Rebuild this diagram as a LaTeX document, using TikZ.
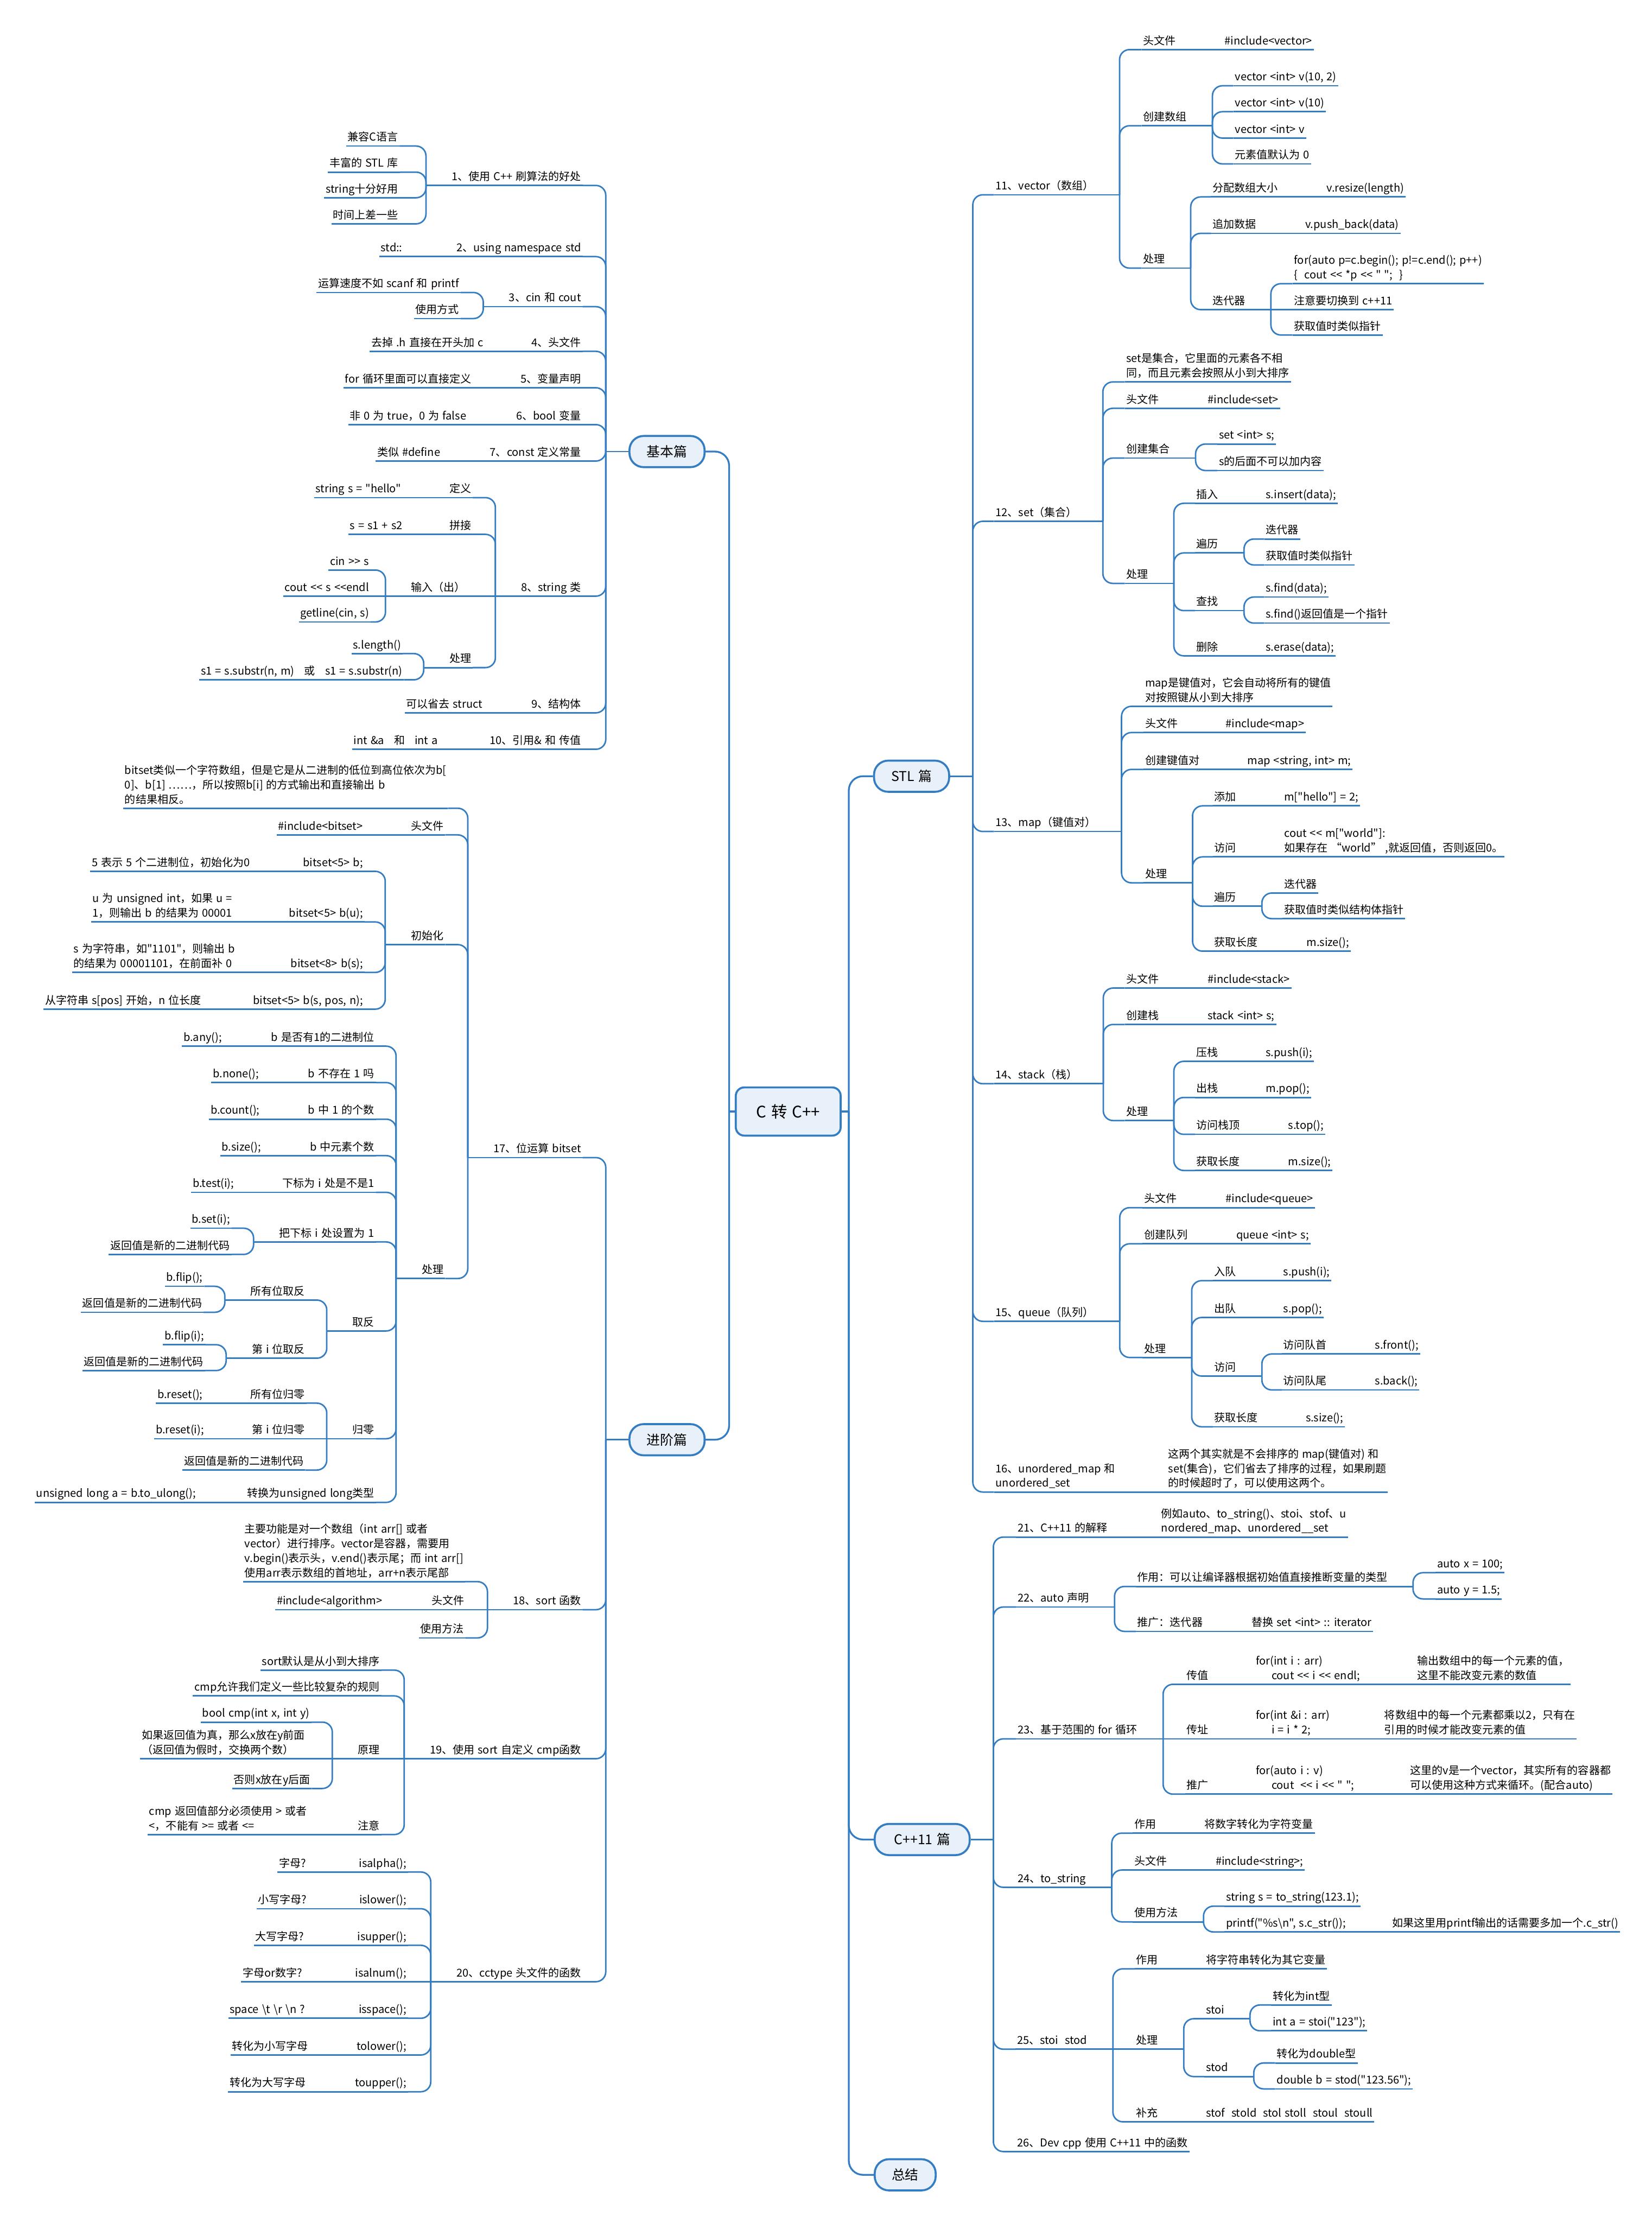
\documentclass[tikz,border=0pt]{standalone}
\usepackage{fontspec}
\newfontfamily\mapfont{Noto Sans CJK SC}[WordSpace=1.35]
\usetikzlibrary{calc}
\definecolor{mapblue}{RGB}{53,125,195}
\definecolor{boxfill}{RGB}{232,240,249}
\tikzset{
  mline/.style={draw=mapblue, line width=1.5pt},
  link/.style={draw=mapblue, line width=1.5pt, rounded corners=3.5mm},
  biglink/.style={draw=mapblue, line width=1.8pt, rounded corners=5mm},
  topic/.style={font=\mapfont\fontsize{10.9}{14.6}\selectfont, inner xsep=0.5mm, inner ysep=0.6mm, text depth=1.1mm, align=left,
    append after command={(\tikzlastnode.south west) edge[mline] (\tikzlastnode.south east)}},
  lt/.style={topic, anchor=south east},
  rt/.style={topic, anchor=south west},
  mainbox/.style={draw=mapblue, line width=2pt, fill=boxfill, rounded corners=5mm, minimum height=11mm, minimum width=26.5mm, inner sep=0pt, font=\mapfont\fontsize{13.5}{16}\selectfont},
  rootbox/.style={mainbox, rounded corners=3mm, minimum width=37mm, minimum height=17mm, font=\mapfont\fontsize{16}{19}\selectfont}
}
\begin{document}
\begin{tikzpicture}[x=0.5mm,y=-0.5mm]
\useasboundingbox (0,0) rectangle (1165,1568);

\node[rootbox] (root) at (556,784) {C 转 C++};
\node[mainbox] (basic) at (470.5,318.5) {基本篇};
\node[mainbox] (adv) at (470.5,1015.5) {进阶篇};
\node[mainbox] (stl) at (643,547.5) {STL 篇};
\node[mainbox,minimum width=33.5mm] (cpp) at (650.5,1297.5) {C++11 篇};
\node[mainbox,minimum width=21.5mm] (sum) at (638.5,1534) {总结};
\draw[biglink] (root.west) -- ++(-4,0) coordinate (rootl);
\draw[biglink] (root.east) -- ++(5,0) coordinate (rootr);
\foreach \t in {basic,adv} \draw[biglink] (rootl) |- (\t.east);
\foreach \t in {stl,cpp,sum} \draw[biglink] (rootr) |- (\t.west);

\node[lt] (b1) at (411,130.8) {1、使用 C++ 刷算法的好处};
\node[lt] (b2) at (411,181) {2、using namespace std};
\node[lt] (b3) at (411,216.3) {3、cin 和 cout};
\node[lt] (b4) at (411,247.8) {4、头文件};
\node[lt] (b5) at (411,273.5) {5、变量声明};
\node[lt] (b6) at (411,299.5) {6、bool 变量};
\node[lt] (b7) at (411,325.2) {7、const 定义常量};
\node[lt] (b8) at (411,420.5) {8、string 类};
\node[lt] (b9) at (411,502.8) {9、结构体};
\node[lt] (b10) at (411,528.5) {10、引用\& 和 传值};
\draw[link] (basic.west) -- ++(-16,0) coordinate (basicj);
\foreach \i in {1,...,10} \draw[link] (basicj) |- (b\i.south east);

\node[lt] (b1a) at (282,103) {兼容C语言};
\node[lt] (b1b) at (282,121.4) {丰富的 STL 库};
\node[lt] (b1c) at (282,139.5) {string十分好用};
\node[lt] (b1d) at (282,157.9) {时间上差一些};
\draw[mline] (b1.south west) -- ++(-17,0) coordinate (b1j);
\foreach \c in {b1a,b1b,b1c,b1d} \draw[link] (b1j) |- (\c.south east);
\node[lt] (b2a) at (285,181) {std::};
\draw[mline] (b2.south west) -- (b2a.south east);
\node[lt] (b3a) at (325,206.3) {运算速度不如 scanf 和 printf};
\node[lt] (b3b) at (325,224.7) {使用方式};
\draw[mline] (b3.south west) -- ++(-17,0) coordinate (b3j);
\foreach \c in {b3a,b3b} \draw[link] (b3j) |- (\c.south east);
\node[lt] (b4a) at (342,247.8) {去掉 .h 直接在开头加 c};
\node[lt] (b5a) at (333.5,273.5) {for 循环里面可以直接定义};
\node[lt] (b6a) at (330,299.5) {非 0 为 true，0 为 false};
\node[lt] (b7a) at (311.7,325.2) {类似 \#define};
\foreach \c in {b4,b5,b6,b7} \draw[mline] (\c.south west) -- (\c a.south east);

\node[lt] (b8a) at (333.5,351) {定义};
\node[lt] (b8b) at (333.5,376.9) {拼接};
\node[lt] (b8c) at (329.5,420.5) {输入（出）};
\node[lt] (b8d) at (333.5,470.9) {处理};
\draw[mline] (b8.south west) -- ++(-17,0) coordinate (b8j);
\foreach \c in {b8a,b8b,b8d} \draw[link] (b8j) |- (\c.south east);
\draw[mline] (b8j) -- (b8c.south east);
\node[lt] (b8aa) at (284,351) {string s = "hello"};
\node[lt] (b8ba) at (285,376.9) {s = s1 + s2};
\foreach \c in {b8a,b8b} \draw[mline] (\c.south west) -- (\c a.south east);
\node[lt] (b8ca) at (261.4,402.1) {cin >> s};
\node[lt] (b8cb) at (261.4,420.5) {cout << s <<endl};
\node[lt] (b8cc) at (261.4,438.7) {getline(cin, s)};
\draw[mline] (b8c.south west) -- ++(-17,0) coordinate (b8cj);
\draw[mline] (b8cj) -- (b8cb.south east);
\foreach \c in {b8ca,b8cc} \draw[link] (b8cj) |- (\c.south east);
\node[lt] (b8da) at (284,461) {s.length()};
\node[lt] (b8db) at (285,479.5) {s1 = s.substr(n, m)\ \ \ 或\ \ \ s1 = s.substr(n)};
\draw[mline] (b8d.south west) -- ++(-17,0) coordinate (b8dj);
\foreach \c in {b8da,b8db} \draw[link] (b8dj) |- (\c.south east);
\node[lt] (b9a) at (341.4,502.8) {可以省去 struct};
\node[lt] (b10a) at (310,528.5) {int \&a\ \ \ 和\ \ \ int a};
\foreach \c in {b9,b10} \draw[mline] (\c.south west) -- (\c a.south east);

\node[lt] (a17) at (411,816.5) {17、位运算 bitset};
\node[lt] (a18) at (411,1135.4) {18、sort 函数};
\node[lt] (a19) at (411,1240.5) {19、使用 sort 自定义 cmp函数};
\node[lt] (a20) at (411,1397.8) {20、cctype 头文件的函数};
\draw[link] (adv.west) -- ++(-16,0) coordinate (advj);
\foreach \i in {17,...,20} \draw[link] (advj) |- (a\i.south east);

\node[lt] (a17a) at (316,570.1) {bitset类似一个字符数组，但是它是从二进制的低位到高位依次为b[\\0]、b[1] ……，所以按照b[i] 的方式输出和直接输出 b\\的结果相反。};
\node[lt] (a17b) at (314,588.9) {头文件};
\node[lt] (a17c) at (314,666.3) {初始化};
\node[lt] (a17d) at (314,901.8) {处理};
\draw[mline] (a17.south west) -- ++(-17,0) coordinate (a17j);
\foreach \c in {a17a,a17b,a17c,a17d} \draw[link] (a17j) |- (\c.south east);
\node[lt] (a17ba) at (257,588.9) {\#include<bitset>};
\draw[mline] (a17b.south west) -- (a17ba.south east);
\node[lt] (a17ca) at (257.2,614.6) {bitset<5> b;};
\node[lt] (a17cb) at (257.2,650.3) {bitset<5> b(u);};
\node[lt] (a17cc) at (257.2,685.9) {bitset<8> b(s);};
\node[lt] (a17cd) at (257.2,711.8) {bitset<5> b(s, pos, n);};
\draw[mline] (a17c.south west) -- ++(-17,0) coordinate (a17cj);
\foreach \c in {a17ca,a17cb,a17cc,a17cd} \draw[link] (a17cj) |- (\c.south east);
\node[lt] (a17caa) at (177.5,614.6) {5 表示 5 个二进制位，初始化为0};
\node[lt] (a17cba) at (165,650.3) {u 为 unsigned int，如果 u =\\1，则输出 b 的结果为 00001};
\node[lt] (a17cca) at (167,685.9) {s 为字符串，如"1101"，则输出 b\\的结果为 00001101，在前面补 0};
\node[lt] (a17cda) at (143,711.8) {从字符串 s[pos] 开始，n 位长度};
\foreach \c in {a17ca,a17cb,a17cc,a17cd} \draw[mline] (\c.south west) -- (\c a.south east);

\node[lt] (p1) at (265.1,737.9) {b 是否有1的二进制位};
\node[lt] (p2) at (265.1,763.6) {b 不存在 1 吗};
\node[lt] (p3) at (265.1,789.4) {b 中 1 的个数};
\node[lt] (p4) at (265.1,815.1) {b 中元素个数};
\node[lt] (p5) at (265.1,841) {下标为 i 处是不是1};
\node[lt] (p6) at (265.1,876) {把下标 i 处设置为 1};
\node[lt] (p7) at (265.1,938.8) {取反};
\node[lt] (p8) at (265.1,1014.8) {归零};
\node[lt] (p9) at (265.1,1059.7) {转换为unsigned long类型};
\draw[mline] (a17d.south west) -- ++(-17,0) coordinate (a17dj);
\foreach \i in {1,...,9} \draw[link] (a17dj) |- (p\i.south east);
\node[lt] (p1a) at (157.7,737.9) {b.any();};
\node[lt] (p2a) at (183.7,763.6) {b.none();};
\node[lt] (p3a) at (184.3,789.4) {b.count();};
\node[lt] (p4a) at (185.1,815.1) {b.size();};
\node[lt] (p5a) at (166.2,841) {b.test(i);};
\node[lt] (p9a) at (139.3,1059.7) {unsigned long a = b.to\_ulong();};
\foreach \i in {1,2,3,4,5,9} \draw[mline] (p\i.south west) -- (p\i a.south east);
\node[lt] (p6a) at (163.3,866.3) {b.set(i);};
\node[lt] (p6b) at (163.3,884.8) {返回值是新的二进制代码};
\draw[mline] (p6.south west) -- ++(-17,0) coordinate (p6j);
\foreach \c in {p6a,p6b} \draw[link] (p6j) |- (\c.south east);
\node[lt] (p7a) at (216.2,917) {所有位取反};
\node[lt] (p7b) at (216.2,958) {第 i 位取反};
\draw[mline] (p7.south west) -- ++(-17,0) coordinate (p7j);
\foreach \c in {p7a,p7b} \draw[link] (p7j) |- (\c.south east);
\node[lt] (p7aa) at (144.1,907.3) {b.flip();};
\node[lt] (p7ab) at (143.6,925.6) {返回值是新的二进制代码};
\draw[mline] (p7a.south west) -- ++(-17,0) coordinate (p7aj);
\foreach \c in {p7aa,p7ab} \draw[link] (p7aj) |- (\c.south east);
\node[lt] (p7ba) at (145,948.5) {b.flip(i);};
\node[lt] (p7bb) at (144.7,966.7) {返回值是新的二进制代码};
\draw[mline] (p7b.south west) -- ++(-17,0) coordinate (p7bj);
\foreach \c in {p7ba,p7bb} \draw[link] (p7bj) |- (\c.south east);
\node[lt] (p8a) at (216.2,989.7) {所有位归零};
\node[lt] (p8b) at (216.2,1014.8) {第 i 位归零};
\node[lt] (p8c) at (215.3,1036.9) {返回值是新的二进制代码};
\draw[mline] (p8.south west) -- ++(-17,0) coordinate (p8j);
\draw[mline] (p8j) -- (p8b.south east);
\foreach \c in {p8a,p8c} \draw[link] (p8j) |- (\c.south east);
\node[lt] (p8aa) at (144.1,989.7) {b.reset();};
\node[lt] (p8ba) at (145,1014.8) {b.reset(i);};
\foreach \c in {p8a,p8b} \draw[mline] (\c.south west) -- (\c a.south east);

\node[lt] (a18a) at (328,1115.6) {主要功能是对一个数组（int arr[] 或者\\vector）进行排序。vector是容器，需要用\\v.begin()表示头，v.end()表示尾；而 int arr[]\\使用arr表示数组的首地址，arr+n表示尾部};
\node[lt] (a18b) at (328.7,1135.4) {头文件};
\node[lt] (a18c) at (328.4,1155.3) {使用方法};
\draw[mline] (a18.south west) -- ++(-17,0) coordinate (a18j);
\draw[mline] (a18j) -- (a18b.south east);
\foreach \c in {a18a,a18c} \draw[link] (a18j) |- (\c.south east);
\node[lt] (a18ba) at (270.7,1135.4) {\#include<algorithm>};
\draw[mline] (a18b.south west) -- (a18ba.south east);

\node[lt] (a19a) at (269,1178) {sort默认是从小到大排序};
\node[lt] (a19b) at (269,1196.2) {cmp允许我们定义一些比较复杂的规则};
\node[lt] (a19c) at (269,1240.5) {原理};
\node[lt] (a19d) at (269,1294) {注意};
\draw[mline] (a19.south west) -- ++(-17,0) coordinate (a19j);
\draw[mline] (a19j) -- (a19c.south east);
\foreach \c in {a19a,a19b,a19d} \draw[link] (a19j) |- (\c.south east);
\node[lt] (a19ca) at (219.6,1214.7) {bool cmp(int x, int y)};
\node[lt] (a19cb) at (216.2,1240.5) {如果返回值为真，那么x放在y前面\\（返回值为假时，交换两个数）};
\node[lt] (a19cc) at (219.9,1261.5) {否则x放在y后面};
\draw[mline] (a19c.south west) -- ++(-17,0) coordinate (a19cj);
\draw[mline] (a19cj) -- (a19cb.south east);
\foreach \c in {a19ca,a19cc} \draw[link] (a19cj) |- (\c.south east);
\node[lt] (a19da) at (217.6,1294) {cmp 返回值部分必须使用 > 或者\\<，不能有 >= 或者 <=};
\draw[mline] (a19d.south west) -- (a19da.south east);

\node[lt] (f1) at (287.7,1320.4) {isalpha();};
\node[lt] (f2) at (287.7,1346.3) {islower();};
\node[lt] (f3) at (287.7,1372.1) {isupper();};
\node[lt] (f4) at (287.7,1397.8) {isalnum();};
\node[lt] (f5) at (287.7,1423.6) {isspace();};
\node[lt] (f6) at (287.7,1449.5) {tolower();};
\node[lt] (f7) at (287.7,1475.4) {toupper();};
\draw[mline] (a20.south west) -- ++(-17,0) coordinate (a20j);
\draw[mline] (a20j) -- (f4.south east);
\foreach \i in {1,2,3,5,6,7} \draw[link] (a20j) |- (f\i.south east);
\node[lt] (f1a) at (217,1320.4) {字母?};
\node[lt] (f2a) at (217.6,1346.3) {小写字母?};
\node[lt] (f3a) at (215.6,1372.1) {大写字母?};
\node[lt] (f4a) at (214.2,1397.8) {字母or数字?};
\node[lt] (f5a) at (216.2,1423.6) {space \textbackslash t \textbackslash r \textbackslash n ?};
\node[lt] (f6a) at (218.5,1449.5) {转化为小写字母};
\node[lt] (f7a) at (216.8,1475.4) {转化为大写字母};
\foreach \i in {1,...,7} \draw[mline] (f\i.south west) -- (f\i a.south east);

\node[rt] (s11) at (701.2,137.4) {11、vector（数组）};
\node[rt] (s12) at (701.2,367.7) {12、set（集合）};
\node[rt] (s13) at (701.2,586.5) {13、map（键值对）};
\node[rt] (s14) at (701.2,764.4) {14、stack（栈）};
\node[rt] (s15) at (701.2,932) {15、queue（队列）};
\node[rt] (s16) at (701.2,1052.4) {16、unordered\_map 和\\unordered\_set};
\draw[link] (stl.east) -- ++(16,0) coordinate (stlj);
\foreach \i in {11,...,16} \draw[link] (stlj) |- (s\i.south west);

\node[rt] (s11a) at (805.3,35) {头文件};
\node[rt] (s11b) at (805.3,88.7) {创建数组};
\node[rt] (s11c) at (805.3,189.1) {处理};
\draw[mline] (s11.south east) -- ++(17,0) coordinate (s11j);
\foreach \c in {s11a,s11b,s11c} \draw[link] (s11j) |- (\c.south west);
\node[rt] (s11aa) at (862.8,35) {\#include<vector>};
\draw[mline] (s11a.south east) -- (s11aa.south west);
\node[rt] (s11ba) at (870,60.5) {vector <int> v(10, 2)};
\node[rt] (s11bb) at (870,78.8) {vector <int> v(10)};
\node[rt] (s11bc) at (870,97.4) {vector <int> v};
\node[rt] (s11bd) at (870,115.6) {元素值默认为 0};
\draw[mline] (s11b.south east) -- ++(17,0) coordinate (s11bj);
\foreach \c in {s11ba,s11bb,s11bc,s11bd} \draw[link] (s11bj) |- (\c.south west);
\node[rt] (s11ca) at (854.2,138.9) {分配数组大小};
\node[rt] (s11cb) at (854.2,164.6) {追加数据};
\node[rt] (s11cc) at (854.2,218.4) {迭代器};
\draw[mline] (s11c.south east) -- ++(17,0) coordinate (s11cj);
\foreach \c in {s11ca,s11cb,s11cc} \draw[link] (s11cj) |- (\c.south west);
\node[rt] (s11caa) at (934.7,138.9) {v.resize(length)};
\node[rt] (s11cba) at (919.6,164.6) {v.push\_back(data)};
\foreach \c in {s11ca,s11cb} \draw[mline] (\c.south east) -- (\c a.south west);
\node[rt] (s11cca) at (911.7,200.1) {for(auto p=c.begin(); p!=c.end(); p++)\\\{\ \ cout << *p << " ";\ \ \}};
\node[rt] (s11ccb) at (911.7,218.4) {注意要切换到 c++11};
\node[rt] (s11ccc) at (911.7,236.3) {获取值时类似指针};
\draw[mline] (s11cc.south east) -- ++(17,0) coordinate (s11ccj);
\draw[mline] (s11ccj) -- (s11ccb.south west);
\foreach \c in {s11cca,s11ccc} \draw[link] (s11ccj) |- (\c.south west);

\node[rt] (s12a) at (793.4,269.4) {set是集合，它里面的元素各不相\\同，而且元素会按照从小到大排序};
\node[rt] (s12b) at (793.4,288) {头文件};
\node[rt] (s12c) at (793.4,323.1) {创建集合};
\node[rt] (s12d) at (793.4,411.5) {处理};
\draw[mline] (s12.south east) -- ++(17,0) coordinate (s12j);
\foreach \c in {s12a,s12b,s12c,s12d} \draw[link] (s12j) |- (\c.south west);
\node[rt] (s12ba) at (850.8,288) {\#include<set>};
\draw[mline] (s12b.south east) -- (s12ba.south west);
\node[rt] (s12ca) at (858.7,313.2) {set <int> s;};
\node[rt] (s12cb) at (858.7,331.9) {s的后面不可以加内容};
\draw[mline] (s12c.south east) -- ++(17,0) coordinate (s12cj);
\foreach \c in {s12ca,s12cb} \draw[link] (s12cj) |- (\c.south west);
\node[rt] (s12da) at (842.9,355) {插入};
\node[rt] (s12db) at (842.9,390) {遍历};
\node[rt] (s12dc) at (842.9,430.7) {查找};
\node[rt] (s12dd) at (842.9,462.6) {删除};
\draw[mline] (s12d.south east) -- ++(17,0) coordinate (s12dj);
\foreach \c in {s12da,s12db,s12dc,s12dd} \draw[link] (s12dj) |- (\c.south west);
\node[rt] (s12daa) at (891.8,355) {s.insert(data);};
\node[rt] (s12dda) at (891.8,462.6) {s.erase(data);};
\foreach \c in {s12da,s12dd} \draw[mline] (\c.south east) -- (\c a.south west);
\node[rt] (s12dba) at (891.8,380.2) {迭代器};
\node[rt] (s12dbb) at (891.8,398.5) {获取值时类似指针};
\draw[mline] (s12db.south east) -- ++(17,0) coordinate (s12dbj);
\foreach \c in {s12dba,s12dbb} \draw[link] (s12dbj) |- (\c.south west);
\node[rt] (s12dca) at (891.8,421.1) {s.find(data);};
\node[rt] (s12dcb) at (891.8,439.5) {s.find()返回值是一个指针};
\draw[mline] (s12dc.south east) -- ++(17,0) coordinate (s12dcj);
\foreach \c in {s12dca,s12dcb} \draw[link] (s12dcj) |- (\c.south west);

\node[rt] (s13a) at (806.6,498.2) {map是键值对，它会自动将所有的键值\\对按照键从小到大排序};
\node[rt] (s13b) at (806.6,516.7) {头文件};
\node[rt] (s13c) at (806.6,542.7) {创建键值对};
\node[rt] (s13d) at (806.6,622.7) {处理};
\draw[mline] (s13.south east) -- ++(17,0) coordinate (s13j);
\foreach \c in {s13a,s13b,s13c,s13d} \draw[link] (s13j) |- (\c.south west);
\node[rt] (s13ba) at (863.4,516.7) {\#include<map>};
\node[rt] (s13ca) at (878.8,542.7) {map <string, int> m;};
\foreach \c in {s13b,s13c} \draw[mline] (\c.south east) -- (\c a.south west);
\node[rt] (s13da) at (855.5,568.4) {添加};
\node[rt] (s13db) at (855.5,604.4) {访问};
\node[rt] (s13dc) at (855.5,639.2) {遍历};
\node[rt] (s13dd) at (855.5,670.9) {获取长度};
\draw[mline] (s13d.south east) -- ++(17,0) coordinate (s13dj);
\foreach \c in {s13da,s13db,s13dc,s13dd} \draw[link] (s13dj) |- (\c.south west);
\node[rt] (s13daa) at (904.7,568.4) {m["hello"] = 2;};
\node[rt] (s13dba) at (904.7,604.4) {cout << m["world"]:\\如果存在 “world” ,就返回值，否则返回0。};
\node[rt] (s13dda) at (920.5,670.9) {m.size();};
\foreach \c in {s13da,s13db,s13dd} \draw[mline] (\c.south east) -- (\c a.south west);
\node[rt] (s13dca) at (904.7,629.9) {迭代器};
\node[rt] (s13dcb) at (904.7,648) {获取值时类似结构体指针};
\draw[mline] (s13dc.south east) -- ++(17,0) coordinate (s13dcj);
\foreach \c in {s13dca,s13dcb} \draw[link] (s13dcj) |- (\c.south west);

\node[rt] (s14a) at (793.4,696.9) {头文件};
\node[rt] (s14b) at (793.4,722.6) {创建栈};
\node[rt] (s14c) at (793.4,790.4) {处理};
\draw[mline] (s14.south east) -- ++(17,0) coordinate (s14j);
\foreach \c in {s14a,s14b,s14c} \draw[link] (s14j) |- (\c.south west);
\node[rt] (s14aa) at (850.8,696.9) {\#include<stack>};
\node[rt] (s14ba) at (850.8,722.6) {stack <int> s;};
\foreach \c in {s14a,s14b} \draw[mline] (\c.south east) -- (\c a.south west);
\node[rt] (s14ca) at (842.9,748.6) {压栈};
\node[rt] (s14cb) at (842.9,774.1) {出栈};
\node[rt] (s14cc) at (842.9,800.1) {访问栈顶};
\node[rt] (s14cd) at (842.9,825.6) {获取长度};
\draw[mline] (s14c.south east) -- ++(17,0) coordinate (s14cj);
\foreach \c in {s14ca,s14cb,s14cc,s14cd} \draw[link] (s14cj) |- (\c.south west);
\node[rt] (s14caa) at (891.8,748.6) {s.push(i);};
\node[rt] (s14cba) at (891.8,774.1) {m.pop();};
\node[rt] (s14cca) at (907.6,800.1) {s.top();};
\node[rt] (s14cda) at (907.6,825.6) {m.size();};
\foreach \c in {s14ca,s14cb,s14cc,s14cd} \draw[mline] (\c.south east) -- (\c a.south west);

\node[rt] (s15a) at (806,851.8) {头文件};
\node[rt] (s15b) at (806,877.3) {创建队列};
\node[rt] (s15c) at (806,957.5) {处理};
\draw[mline] (s15.south east) -- ++(17,0) coordinate (s15j);
\foreach \c in {s15a,s15b,s15c} \draw[link] (s15j) |- (\c.south west);
\node[rt] (s15aa) at (863.4,851.8) {\#include<queue>};
\node[rt] (s15ba) at (871,877.3) {queue <int> s;};
\foreach \c in {s15a,s15b} \draw[mline] (\c.south east) -- (\c a.south west);
\node[rt] (s15ca) at (855.5,903.3) {入队};
\node[rt] (s15cb) at (855.5,929.3) {出队};
\node[rt] (s15cc) at (855.5,970.6) {访问};
\node[rt] (s15cd) at (855.5,1006.4) {获取长度};
\draw[mline] (s15c.south east) -- ++(17,0) coordinate (s15cj);
\foreach \c in {s15ca,s15cb,s15cc,s15cd} \draw[link] (s15cj) |- (\c.south west);
\node[rt] (s15caa) at (904.1,903.3) {s.push(i);};
\node[rt] (s15cba) at (904.1,929.3) {s.pop();};
\node[rt] (s15cda) at (919.9,1006.4) {s.size();};
\foreach \c in {s15ca,s15cb,s15cd} \draw[mline] (\c.south east) -- (\c a.south west);
\node[rt] (s15cca) at (904.1,955) {访问队首};
\node[rt] (s15ccb) at (904.1,980.4) {访问队尾};
\draw[mline] (s15cc.south east) -- ++(17,0) coordinate (s15ccj);
\foreach \c in {s15cca,s15ccb} \draw[link] (s15ccj) |- (\c.south west);
\node[rt] (s15ccaa) at (968.8,955) {s.front();};
\node[rt] (s15ccba) at (968.8,980.4) {s.back();};
\foreach \c in {s15cca,s15ccb} \draw[mline] (\c.south east) -- (\c a.south west);

\node[rt] (s16a) at (823,1052.4) {这两个其实就是不会排序的 map(键值对) 和\\set(集合)，它们省去了排序的过程，如果刷题\\的时候超时了，可以使用这两个。};
\draw[mline] (s16.south east) -- (s16a.south west);

\node[rt] (c21) at (716.7,1084.2) {21、C++11 的解释};
\node[rt] (c22) at (716.7,1133.5) {22、auto 声明};
\node[rt] (c23) at (716.7,1226.5) {23、基于范围的 for 循环};
\node[rt] (c24) at (716.7,1331.2) {24、to\_string};
\node[rt] (c25) at (716.4,1445.4) {25、stoi\ \ stod};
\node[rt] (c26) at (716.4,1517.6) {26、Dev cpp 使用 C++11 中的函数};
\draw[link] (cpp.east) -- ++(16,0) coordinate (cppj);
\foreach \i in {21,...,26} \draw[link] (cppj) |- (c\i.south west);

\node[rt] (c21a) at (818,1084.2) {例如auto、to\_string()、stoi、stof、u\\nordered\_map、unordered\_\_set};
\draw[mline] (c21.south east) -- (c21a.south west);

\node[rt] (c22a) at (801.2,1119) {作用：可以让编译器根据初始值直接推断变量的类型};
\node[rt] (c22b) at (801.2,1150.7) {推广：迭代器};
\draw[mline] (c22.south east) -- ++(17,0) coordinate (c22j);
\foreach \c in {c22a,c22b} \draw[link] (c22j) |- (\c.south west);
\node[rt] (c22aa) at (1012.6,1109.3) {auto x = 100;};
\node[rt] (c22ab) at (1012.6,1127.8) {auto y = 1.5;};
\draw[mline] (c22a.south east) -- ++(17,0) coordinate (c22aj);
\foreach \c in {c22aa,c22ab} \draw[link] (c22aj) |- (\c.south west);
\node[rt] (c22ba) at (881.7,1150.7) {替换 set <int> :: iterator};
\draw[mline] (c22b.south east) -- (c22ba.south west);

\node[rt] (c23a) at (836,1188) {传值};
\node[rt] (c23b) at (836,1226.5) {传址};
\node[rt] (c23c) at (836,1265.5) {推广};
\draw[mline] (c23.south east) -- ++(17,0) coordinate (c23j);
\draw[mline] (c23j) -- (c23b.south west);
\foreach \c in {c23a,c23c} \draw[link] (c23j) |- (\c.south west);
\node[rt] (c23aa) at (884.8,1188) {for(int i : arr)\\\hspace*{5.5mm}cout << i << endl;};
\node[rt] (c23ba) at (884.8,1226.5) {for(int \&i : arr)\\\hspace*{5.5mm}i = i * 2;};
\node[rt] (c23ca) at (884.8,1265.5) {for(auto i : v)\\\hspace*{5.5mm}cout\ \ << i << " ";};
\node[rt] (c23aaa) at (998.4,1188) {输出数组中的每一个元素的值，\\这里不能改变元素的数值};
\node[rt] (c23baa) at (975.4,1226.5) {将数组中的每一个元素都乘以2，只有在\\引用的时候才能改变元素的值};
\node[rt] (c23caa) at (993.7,1265.5) {这里的v是一个vector，其实所有的容器都\\可以使用这种方式来循环。(配合auto)};
\foreach \c in {c23a,c23b,c23c,c23aa,c23ba,c23ca} \draw[mline] (\c.south east) -- (\c a.south west);

\node[rt] (c24a) at (799,1293) {作用};
\node[rt] (c24b) at (799,1319) {头文件};
\node[rt] (c24c) at (799,1355.6) {使用方法};
\draw[mline] (c24.south east) -- ++(17,0) coordinate (c24j);
\foreach \c in {c24a,c24b,c24c} \draw[link] (c24j) |- (\c.south west);
\node[rt] (c24aa) at (848.5,1293) {将数字转化为字符变量};
\node[rt] (c24ba) at (856.4,1319) {\#include<string>;};
\foreach \c in {c24a,c24b} \draw[mline] (\c.south east) -- (\c a.south west);
\node[rt] (c24ca) at (863.7,1344.5) {string s = to\_string(123.1);};
\node[rt] (c24cb) at (863.7,1362.7) {printf("\%s\textbackslash n", s.c\_str());};
\draw[mline] (c24c.south east) -- ++(17,0) coordinate (c24cj);
\foreach \c in {c24ca,c24cb} \draw[link] (c24cj) |- (\c.south west);
\node[rt] (c24cba) at (981,1362.7) {如果这里用printf输出的话需要多加一个.c\_str()};
\draw[mline] (c24cb.south east) -- (c24cba.south west);

\node[rt] (c25a) at (800.4,1388.7) {作用};
\node[rt] (c25b) at (800.4,1445.4) {处理};
\node[rt] (c25c) at (800.4,1496.6) {补充};
\draw[mline] (c25.south east) -- ++(17,0) coordinate (c25j);
\draw[mline] (c25j) -- (c25b.south west);
\foreach \c in {c25a,c25c} \draw[link] (c25j) |- (\c.south west);
\node[rt] (c25aa) at (849.5,1388.7) {将字符串转化为其它变量};
\node[rt] (c25ca) at (849.5,1496.6) {stof\ \ stold\ \ stol stoll\ \ stoul\ \ stoull};
\foreach \c in {c25a,c25c} \draw[mline] (\c.south east) -- (\c a.south west);
\node[rt] (c25ba) at (849.5,1423.9) {stoi};
\node[rt] (c25bb) at (849.5,1464.7) {stod};
\draw[mline] (c25b.south east) -- ++(17,0) coordinate (c25bj);
\foreach \c in {c25ba,c25bb} \draw[link] (c25bj) |- (\c.south west);
\node[rt] (c25baa) at (896.7,1414.2) {转化为int型};
\node[rt] (c25bab) at (896.7,1432.4) {int a = stoi("123");};
\draw[mline] (c25ba.south east) -- ++(17,0) coordinate (c25baj);
\foreach \c in {c25baa,c25bab} \draw[link] (c25baj) |- (\c.south west);
\node[rt] (c25bba) at (899.5,1455.1) {转化为double型};
\node[rt] (c25bbb) at (899.5,1473.4) {double b = stod("123.56");};
\draw[mline] (c25bb.south east) -- ++(17,0) coordinate (c25bbj);
\foreach \c in {c25bba,c25bbb} \draw[link] (c25bbj) |- (\c.south west);
\end{tikzpicture}
\end{document}
